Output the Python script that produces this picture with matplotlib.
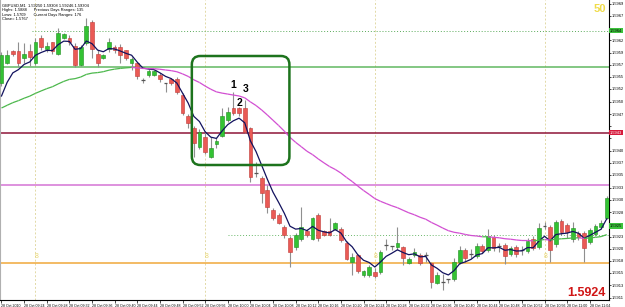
import matplotlib
matplotlib.use("Agg")
import matplotlib.pyplot as plt
from matplotlib.patches import FancyBboxPatch
from matplotlib.transforms import blended_transform_factory
import numpy as np

plt.rcParams['font.family'] = ['Liberation Sans', 'DejaVu Sans']

# GBPUSD M1 bars, 28 Oct 2010
opens = [1.59534, 1.59574, 1.59598, 1.59598, 1.59584, 1.59598, 1.59574, 1.59624, 1.59602, 1.59616,
         1.59592, 1.59624, 1.59624, 1.59608, 1.59570, 1.59614, 1.59656, 1.59592, 1.59584, 1.59602,
         1.59606, 1.59606, 1.59600, 1.59574, 1.59574, 1.59541, 1.59550, 1.59550, 1.59550, 1.59534,
         1.59542, 1.59542, 1.59510, 1.59468, 1.59444, 1.59406, 1.59426, 1.59386, 1.59412, 1.59428,
         1.59460, 1.59484, 1.59484, 1.59484, 1.59444, 1.59355, 1.59344, 1.59320, 1.59280, 1.59270,
         1.59246, 1.59224, 1.59206, 1.59222, 1.59238, 1.59222, 1.59270, 1.59238, 1.59238, 1.59242,
         1.59242, 1.59214, 1.59176, 1.59190, 1.59150, 1.59150, 1.59156, 1.59156, 1.59211, 1.59207,
         1.59206, 1.59206, 1.59174, 1.59190, 1.59190, 1.59190, 1.59174, 1.59134, 1.59136, 1.59142,
         1.59142, 1.59176, 1.59200, 1.59192, 1.59188, 1.59208, 1.59200, 1.59226, 1.59208, 1.59210,
         1.59192, 1.59206, 1.59200, 1.59198, 1.59222, 1.59206, 1.59248, 1.59246, 1.59212, 1.59258,
         1.59250, 1.59222, 1.59234, 1.59234, 1.59216, 1.59232, 1.59246, 1.59264]
highs = [1.59596, 1.59600, 1.59600, 1.59616, 1.59614, 1.59612, 1.59624, 1.59630, 1.59616, 1.59616,
         1.59644, 1.59634, 1.59630, 1.59614, 1.59610, 1.59664, 1.59660, 1.59600, 1.59592, 1.59624,
         1.59610, 1.59612, 1.59600, 1.59586, 1.59576, 1.59544, 1.59562, 1.59560, 1.59554, 1.59534,
         1.59544, 1.59546, 1.59514, 1.59472, 1.59448, 1.59442, 1.59436, 1.59426, 1.59424, 1.59484,
         1.59486, 1.59516, 1.59486, 1.59500, 1.59446, 1.59376, 1.59348, 1.59330, 1.59284, 1.59274,
         1.59250, 1.59228, 1.59234, 1.59286, 1.59242, 1.59266, 1.59274, 1.59240, 1.59264, 1.59256,
         1.59246, 1.59218, 1.59194, 1.59192, 1.59160, 1.59170, 1.59164, 1.59200, 1.59222, 1.59208,
         1.59246, 1.59208, 1.59186, 1.59204, 1.59194, 1.59196, 1.59176, 1.59156, 1.59152, 1.59142,
         1.59184, 1.59208, 1.59204, 1.59202, 1.59214, 1.59212, 1.59242, 1.59230, 1.59214, 1.59214,
         1.59208, 1.59210, 1.59208, 1.59224, 1.59228, 1.59254, 1.59256, 1.59250, 1.59260, 1.59262,
         1.59254, 1.59256, 1.59238, 1.59238, 1.59244, 1.59252, 1.59260, 1.59308]
lows = [1.59528, 1.59572, 1.59588, 1.59566, 1.59574, 1.59568, 1.59570, 1.59600, 1.59596, 1.59592,
        1.59590, 1.59622, 1.59610, 1.59566, 1.59568, 1.59610, 1.59584, 1.59566, 1.59582, 1.59596,
        1.59594, 1.59574, 1.59580, 1.59560, 1.59542, 1.59534, 1.59546, 1.59548, 1.59536, 1.59516,
        1.59530, 1.59512, 1.59470, 1.59444, 1.59386, 1.59402, 1.59392, 1.59384, 1.59404, 1.59426,
        1.59456, 1.59470, 1.59468, 1.59434, 1.59336, 1.59346, 1.59294, 1.59274, 1.59260, 1.59252,
        1.59224, 1.59166, 1.59200, 1.59218, 1.59226, 1.59220, 1.59218, 1.59228, 1.59228, 1.59240,
        1.59216, 1.59180, 1.59150, 1.59154, 1.59146, 1.59146, 1.59144, 1.59152, 1.59200, 1.59200,
        1.59200, 1.59170, 1.59172, 1.59186, 1.59170, 1.59176, 1.59124, 1.59132, 1.59120, 1.59134,
        1.59138, 1.59172, 1.59176, 1.59184, 1.59184, 1.59194, 1.59196, 1.59198, 1.59196, 1.59172,
        1.59188, 1.59186, 1.59190, 1.59194, 1.59200, 1.59202, 1.59242, 1.59176, 1.59206, 1.59230,
        1.59224, 1.59216, 1.59220, 1.59176, 1.59212, 1.59228, 1.59242, 1.59262]
closes = [1.59590, 1.59590, 1.59592, 1.59574, 1.59592, 1.59586, 1.59616, 1.59606, 1.59608, 1.59598,
          1.59634, 1.59632, 1.59616, 1.59570, 1.59606, 1.59648, 1.59602, 1.59574, 1.59590, 1.59616,
          1.59600, 1.59590, 1.59584, 1.59582, 1.59548, 1.59540, 1.59558, 1.59558, 1.59542, 1.59533,
          1.59534, 1.59516, 1.59474, 1.59454, 1.59414, 1.59436, 1.59396, 1.59404, 1.59418, 1.59468,
          1.59476, 1.59474, 1.59474, 1.59436, 1.59346, 1.59354, 1.59314, 1.59286, 1.59264, 1.59254,
          1.59230, 1.59196, 1.59230, 1.59246, 1.59230, 1.59264, 1.59224, 1.59230, 1.59230, 1.59254,
          1.59220, 1.59182, 1.59186, 1.59158, 1.59158, 1.59166, 1.59148, 1.59196, 1.59210, 1.59206,
          1.59214, 1.59184, 1.59182, 1.59196, 1.59174, 1.59189, 1.59136, 1.59150, 1.59137, 1.59141,
          1.59176, 1.59200, 1.59184, 1.59191, 1.59208, 1.59198, 1.59228, 1.59204, 1.59207, 1.59188,
          1.59204, 1.59192, 1.59199, 1.59218, 1.59204, 1.59244, 1.59247, 1.59200, 1.59256, 1.59236,
          1.59236, 1.59244, 1.59226, 1.59204, 1.59240, 1.59248, 1.59254, 1.59304]

fast_ma_start = 1.59508   # first value of the black EMA
slow_ma_start = 1.59484   # first value of the green/magenta EMA
fast_period = 5
slow_period = 38

# horizontal levels (price) and where they start (bar index)
top_dotted, top_dotted_start = 1.59639, 5.4
upper_green = 1.59567
maroon_level = 1.59435
violet_level = 1.59330
low_dotted, low_dotted_start = 1.59230, 40
orange_level = 1.59173
bid_price = 1.59248

separators = [6, 36, 66, 96]
box_bars = (33.65, 50.9)
box_prices = (1.59370, 1.59588)
wave_labels = ["1", "2", "3"]
wave_x = [41.0, 42.05, 43.1]
wave_y = [1.59530, 1.59494, 1.59522]

price_ticks = [round(1.59693 - 0.000245 * i, 5) for i in range(25)]
time_tick_bars = list(range(0, 105, 4))
time_labels = ["28 Oct 2010"] + ["28 Oct %02d:%02d" % divmod(9 * 60 + 20 + b, 60) for b in time_tick_bars[1:]]

header = ["GBPUSD,M1  1.59250 1.59308 1.59246 1.59304",
          "Highs: 1.5888      Previous Days Ranges: 135",
          "Lows: 1.5709       Current Days Ranges: 176",
          "Close= 1.5767"]

# ---------------------------------------------------------------
fig = plt.figure(figsize=(6.25, 3.07), dpi=100)
ax = fig.add_axes([0, 7 / 307, 609 / 625, 300 / 307])
ax.set_xlim(-0.265, 107.4)
ax.set_ylim(1.5910, 1.5970)

n = len(closes)
x = np.arange(n)

# level lines
ax.hlines(top_dotted, top_dotted_start, 108, colors="#5aaa5a", lw=0.7, linestyles=(0, (1, 2)), zorder=1)
ax.axhline(upper_green, color="#62b862", lw=1.1, zorder=1)
ax.axhline(maroon_level, color="#8e1538", lw=1.1, zorder=1)
ax.axhline(violet_level, color="#d574d5", lw=1.1, zorder=1)
ax.hlines(low_dotted, low_dotted_start, 108, colors="#6ab86a", lw=0.7, linestyles=(0, (1, 2)), zorder=1)
ax.axhline(orange_level, color="#f0a83a", lw=1.1, zorder=1)
for s in separators:
    ax.axvline(s, color="#e2d9a6", lw=0.7, ls=(0, (2, 2)), zorder=0)
    ax.text(s + 0.2, 1.59186, "8", color="#ead873", fontsize=5, ha="center", va="center", zorder=1)

# candles
body_w = 0.66
for i in range(n):
    o, h, l, c = opens[i], highs[i], lows[i], closes[i]
    ax.vlines(i, l, h, colors="#8f8f8f", lw=0.8, zorder=2)
    if abs(c - o) < 0.00002:
        ax.hlines(o, i - body_w / 2, i + body_w / 2, colors="#555555", lw=0.9, zorder=3)
    elif c > o:
        ax.bar(i, c - o, bottom=o, width=body_w, color="#33c233", edgecolor="#1f8f1f", lw=0.4, zorder=3)
    else:
        ax.bar(i, o - c, bottom=c, width=body_w, color="#ea5a55", edgecolor="#c03a36", lw=0.4, zorder=3)

# moving averages
fast = [fast_ma_start]
for c in closes[1:]:
    fast.append(fast[-1] + (c - fast[-1]) * 2 / (fast_period + 1))
slow = [slow_ma_start]
for c in closes[1:]:
    slow.append(slow[-1] + (c - slow[-1]) * 2 / (slow_period + 1))
ax.plot(x, fast, color="#12125e", lw=0.9, zorder=4)
for i in range(1, n):
    col = "#4cb84c" if slow[i] >= slow[i - 1] else "#d24fd2"
    ax.plot([i - 1, i], [slow[i - 1], slow[i]], color=col, lw=0.9, zorder=4, solid_capstyle="butt")

# rounded box around the pattern
aspect = (0.00002 * 5.67)
box = FancyBboxPatch((box_bars[0], box_prices[0]), box_bars[1] - box_bars[0], box_prices[1] - box_prices[0],
                     boxstyle="round,pad=0,rounding_size=1.5", mutation_aspect=aspect,
                     fill=False, edgecolor="#1d731d", lw=1.8, zorder=5)
ax.add_patch(box)
for t, wx, wy in zip(wave_labels, wave_x, wave_y):
    ax.text(wx, wy, t, fontsize=7.5, fontweight="bold", ha="center", va="center", zorder=6)

# header text
for j, line in enumerate(header):
    ax.text(0.004, 0.987 - j * 0.0145, line, transform=ax.transAxes, fontsize=2.9, va="top", ha="left", zorder=6)

ax.text(0.995, 0.985, "50", transform=ax.transAxes, color="#f0dc4a", fontsize=8, fontweight="bold",
        ha="right", va="top", zorder=6)
ax.text(0.995, 0.004, "1.5924", transform=ax.transAxes, color="#d01515", fontsize=9, fontweight="bold",
        ha="right", va="bottom", zorder=6)

# price scale; labels hidden where a coloured price box sits on top
boxes = [(top_dotted, "#3cc23c", "black"), (maroon_level, "#d61a3c", "white"), (bid_price, "#3cc23c", "black")]
ax.yaxis.tick_right()
ax.set_yticks(price_ticks)
ax.set_yticklabels(["" if any(abs(p - b[0]) < 0.00014 for b in boxes) else "%.4f" % p for p in price_ticks])
ax.tick_params(axis="y", labelsize=2.9, length=1.5, width=0.5, pad=0.8)
ax.set_xticks(time_tick_bars)
ax.set_xticklabels(time_labels)
ax.tick_params(axis="x", labelsize=2.6, length=2, width=0.5, pad=0.8)
for lab in ax.get_xticklabels():
    lab.set_ha("left")
ax.spines["top"].set_visible(False)
ax.spines["left"].set_color("#b0b0b0")
ax.spines["right"].set_linewidth(0.8)
ax.spines["bottom"].set_linewidth(0.8)

tr = blended_transform_factory(ax.transAxes, ax.transData)
for p, fc, tc in boxes:
    ax.text(1.0015, p, "%.4f" % p, transform=tr, fontsize=2.9, color=tc, ha="left", va="center",
            bbox=dict(facecolor=fc, edgecolor="none", pad=0.6), clip_on=False, zorder=7)

fig.savefig("out.png", dpi=100)
